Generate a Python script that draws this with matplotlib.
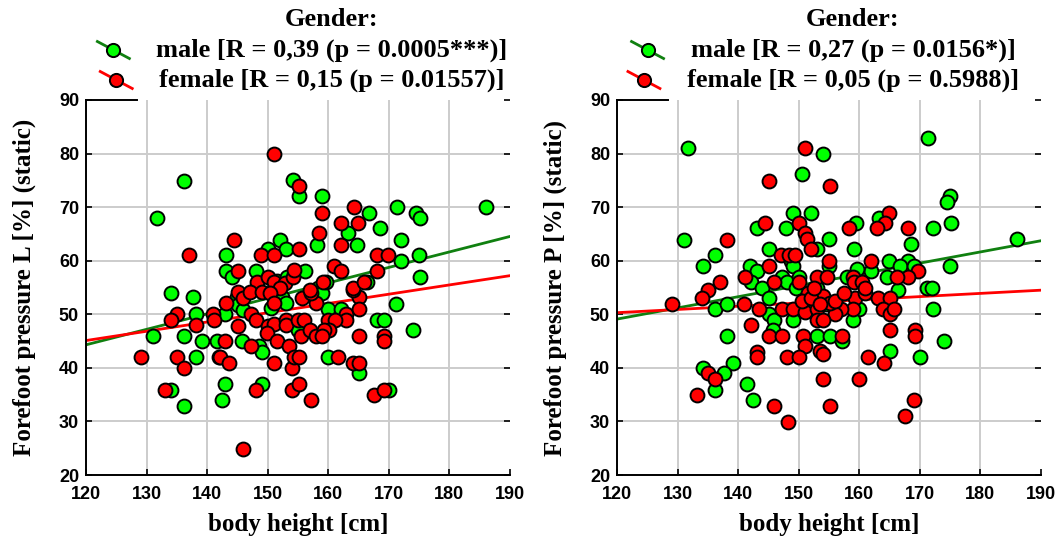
"""
Forefoot pressure vs body height, split by gender (static measurement).
Two scatter panels (left / right foot) with linear fit per gender.
"""

import numpy as np
import matplotlib
matplotlib.use("Agg")
import matplotlib.pyplot as plt
from matplotlib.lines import Line2D

# ============================================================================
# DATA  (body height [cm], forefoot pressure [%])
# ============================================================================

LEFT_MALE = np.array([
    (136.1, 74.9), (131.7, 68.0), (143.1, 61.1), (152.0, 63.9), (150.1, 62.2),
    (153.1, 62.1), (154.1, 75.0), (155.1, 72.0), (143.1, 58.0), (144.1, 57.0),
    (148.1, 58.0), (151.5, 56.3), (153.2, 57.0), (156.2, 58.0), (144.9, 53.3),
    (152.3, 53.3), (145.1, 51.8), (146.0, 50.8), (153.0, 52.1), (157.0, 54.2),
    (158.3, 55.0), (142.9, 50.1), (155.0, 47.0), (150.6, 51.1), (134.1, 54.0),
    (137.6, 53.3), (138.1, 50.1), (131.1, 46.0), (136.1, 46.0), (139.1, 45.0),
    (138.1, 42.0), (134.1, 35.9), (136.1, 32.9), (143.0, 36.9), (142.5, 34.0),
    (149.0, 36.9), (141.6, 45.0), (142.0, 42.0), (145.7, 45.0), (148.6, 44.1),
    (149.0, 43.0), (171.1, 51.9), (159.0, 53.9), (160.0, 51.0), (162.1, 51.0),
    (168.1, 49.0), (169.2, 49.0), (174.0, 47.0), (160.0, 42.0), (165.1, 39.1),
    (170.0, 35.9), (159.0, 72.0), (166.7, 69.0), (171.4, 70.0), (174.5, 69.0),
    (175.1, 68.0), (186.0, 70.0), (163.3, 65.1), (168.5, 66.1), (158.1, 62.9),
    (164.7, 62.9), (172.0, 63.9), (172.0, 60.0), (174.9, 61.1), (175.1, 57.0),
    (159.6, 56.0), (166.4, 56.0),
])

LEFT_FEMALE = np.array([
    (151.0, 80.0), (155.1, 74.0), (144.4, 63.9), (137.0, 61.1), (148.9, 61.1),
    (151.0, 61.1), (145.1, 58.0), (148.3, 56.1), (150.1, 57.0), (151.0, 56.1),
    (152.8, 55.8), (152.0, 54.9), (154.1, 57.0), (154.3, 58.2), (145.1, 54.1),
    (146.0, 53.0), (147.1, 54.1), (149.0, 54.1), (150.4, 53.9), (143.1, 52.1),
    (147.2, 50.1), (148.1, 49.0), (151.0, 52.1), (155.6, 53.0), (158.0, 52.1),
    (141.0, 50.1), (145.1, 47.8), (150.1, 47.8), (151.0, 48.2), (153.0, 49.0),
    (153.0, 48.0), (155.0, 49.0), (156.0, 49.0), (155.5, 46.0), (157.0, 47.0),
    (158.0, 46.0), (149.8, 46.5), (135.0, 50.1), (134.1, 49.0), (138.1, 48.0),
    (129.1, 42.0), (135.0, 42.0), (136.1, 39.9), (133.0, 35.9), (148.1, 35.9),
    (146.0, 24.8), (143.0, 45.0), (142.2, 42.0), (143.6, 41.0), (147.2, 44.1),
    (141.1, 49.0), (151.6, 45.0), (153.5, 44.0), (151.1, 41.0), (154.0, 40.0),
    (154.0, 35.9), (154.3, 42.0), (165.1, 53.2), (164.1, 54.6), (157.1, 53.9),
    (163.0, 50.1), (163.0, 49.0), (165.1, 51.0), (160.0, 49.0), (161.1, 49.0),
    (160.1, 47.0), (159.3, 47.0), (159.0, 46.0), (169.2, 46.0), (169.2, 45.0),
    (165.1, 46.0), (161.6, 42.0), (164.1, 41.0), (165.1, 41.0), (167.5, 34.9),
    (169.2, 35.9), (157.1, 34.0), (155.1, 37.0), (155.1, 42.0), (159.0, 69.0),
    (164.3, 70.0), (162.1, 67.1), (164.9, 67.1), (158.4, 65.1), (162.1, 62.9),
    (155.1, 62.1), (168.1, 61.1), (169.8, 61.1), (168.1, 58.0), (161.0, 59.0),
    (162.1, 58.0), (159.1, 56.0), (157.0, 54.5), (164.1, 55.0), (165.9, 56.0),
])

RIGHT_MALE = np.array([
    (131.7, 81.1), (154.0, 80.0), (150.6, 76.1), (149.0, 69.0), (152.1, 69.0),
    (143.1, 66.1), (147.9, 66.1), (153.1, 62.1), (131.1, 63.9), (136.1, 61.1),
    (134.2, 59.0), (145.1, 62.1), (148.8, 60.0), (149.0, 59.0), (142.0, 59.0),
    (143.1, 58.0), (142.2, 56.0), (144.0, 55.0), (147.2, 57.0), (148.0, 56.0),
    (150.0, 57.0), (153.1, 55.0), (136.1, 51.0), (138.1, 51.9), (145.1, 53.1),
    (145.1, 50.1), (146.0, 49.0), (145.7, 47.0), (149.0, 49.0), (153.0, 46.0),
    (138.1, 46.0), (139.2, 41.0), (134.2, 40.0), (137.6, 39.1), (136.1, 35.9),
    (141.5, 37.0), (142.5, 34.0), (166.4, 54.6), (171.2, 55.0), (172.0, 55.0),
    (172.1, 51.0), (160.0, 51.0), (158.9, 49.0), (155.1, 46.0), (157.1, 45.0),
    (165.0, 43.1), (174.0, 45.0), (170.0, 42.0), (171.3, 83.0), (174.9, 72.1),
    (174.4, 71.0), (175.1, 67.1), (172.1, 66.1), (168.5, 63.1), (163.3, 68.0),
    (159.4, 67.1), (155.0, 64.1), (159.1, 62.1), (155.0, 59.0), (164.9, 60.0),
    (168.1, 60.0), (166.7, 59.0), (169.1, 59.0), (164.6, 57.0), (162.0, 58.0),
    (159.7, 58.5), (157.9, 57.0), (175.0, 59.0), (186.0, 64.1), (151.0, 54.0),
    (154.5, 52.0), (149.5, 55.0),
])

RIGHT_FEMALE = np.array([
    (151.0, 81.1), (145.1, 74.9), (155.1, 74.0), (144.4, 67.1), (150.0, 67.1),
    (151.1, 65.2), (151.3, 64.1), (152.1, 62.1), (138.1, 63.9), (137.0, 56.1),
    (135.0, 54.5), (147.1, 61.1), (148.4, 61.1), (149.4, 61.0), (145.1, 59.0),
    (141.1, 57.0), (146.0, 56.0), (150.0, 56.0), (153.1, 57.0), (151.6, 54.0),
    (129.1, 51.9), (134.0, 53.1), (141.0, 51.9), (143.5, 51.0), (145.1, 46.0),
    (147.2, 46.0), (147.2, 51.0), (149.0, 51.0), (151.0, 50.5), (153.0, 51.0),
    (153.0, 49.0), (150.7, 46.0), (151.1, 44.1), (153.5, 43.2), (154.0, 42.5),
    (148.1, 42.0), (150.1, 42.0), (143.1, 43.0), (143.1, 42.0), (142.1, 48.0),
    (135.1, 39.1), (136.1, 38.0), (133.2, 34.9), (146.0, 32.9), (148.2, 29.9),
    (154.0, 38.0), (154.0, 53.5), (159.3, 53.1), (161.0, 54.0), (163.1, 53.1),
    (165.0, 53.1), (163.9, 51.0), (165.0, 50.0), (165.8, 51.0), (159.0, 51.0),
    (157.0, 51.0), (156.0, 50.0), (155.2, 52.2), (154.0, 49.0), (157.1, 46.0),
    (155.1, 32.9), (160.0, 38.0), (161.5, 42.0), (164.1, 41.0), (165.0, 47.0),
    (169.2, 47.0), (169.2, 46.0), (169.1, 34.0), (167.6, 31.0), (168.1, 66.1),
    (164.9, 69.0), (164.3, 67.1), (163.0, 66.1), (158.3, 66.1), (155.0, 60.0),
    (162.0, 60.0), (169.7, 58.0), (168.1, 57.0), (166.2, 57.0), (158.9, 57.0),
    (159.2, 56.0), (160.5, 56.0), (161.0, 55.0), (154.6, 57.0), (150.5, 52.5),
    (152.0, 53.0), (153.5, 52.0), (156.0, 52.5), (157.5, 54.0), (152.5, 55.0),
])

# Linear fits: (slope, intercept)
FIT_LEFT_MALE = (0.289, 9.62)
FIT_LEFT_FEMALE = (0.173, 24.34)
FIT_RIGHT_MALE = (0.209, 24.02)
FIT_RIGHT_FEMALE = (0.060, 43.10)

LEFT_LABELS = ["male [R = 0,39 (p = 0.0005***)]",
               "female [R = 0,15 (p = 0.01557)]"]
RIGHT_LABELS = ["male [R = 0,27 (p = 0.0156*)]",
                "female [R = 0,05 (p = 0.5988)]"]

Y_LABELS = ["Forefoot pressure L [%] (static)",
            "Forefoot pressure P [%] (static)"]
X_LABEL = "body height [cm]"

X_TICKS = np.arange(120, 191, 10)
Y_TICKS = np.arange(20, 91, 10)

# ============================================================================
# STYLE
# ============================================================================

W, H, DPI = 1060, 545, 100
GREEN_FACE = "#00ff00"
RED_FACE = "#ff0000"
GREEN_LINE = "#108010"
RED_LINE = "#ff0000"
SERIF = ["Liberation Serif", "DejaVu Serif"]
SANS = ["Liberation Sans", "DejaVu Sans"]


def draw_panel(ax, male, female, fit_m, fit_f, ylabel):
    ax.set_xlim(120, 190)
    ax.set_ylim(20, 90)
    ax.set_xticks(X_TICKS)
    ax.set_yticks(Y_TICKS)
    ax.grid(True, color="#cccccc", linewidth=1.4)
    ax.set_axisbelow(True)
    # no grid on the outer frame positions (top / right)
    ax.get_ygridlines()[-1].set_visible(False)
    ax.get_xgridlines()[-1].set_visible(False)

    xs = np.array([120, 190])
    ax.plot(xs, fit_m[0] * xs + fit_m[1], color=GREEN_LINE, lw=2.0, zorder=2)
    ax.plot(xs, fit_f[0] * xs + fit_f[1], color=RED_LINE, lw=2.0, zorder=2)

    ax.scatter(male[:, 0], male[:, 1], s=100, c=GREEN_FACE,
               edgecolors="black", linewidths=1.4, zorder=3)
    ax.scatter(female[:, 0], female[:, 1], s=100, c=RED_FACE,
               edgecolors="black", linewidths=1.4, zorder=4)

    for side in ("top", "right"):
        ax.spines[side].set_visible(False)
    for side in ("left", "bottom"):
        ax.spines[side].set_linewidth(1.4)
    # short stub of the top frame that is not covered by the legend
    ax.axhline(90, xmin=0, xmax=0.12, color="black", lw=1.4, clip_on=False)

    ax.tick_params(axis="both", direction="in", length=4, width=1.2,
                   right=True, labelsize=13)
    ax.tick_params(axis="x", pad=8)
    ax.tick_params(axis="y", pad=5)
    for lab in ax.get_xticklabels() + ax.get_yticklabels():
        lab.set_family(SANS)
        lab.set_fontweight("bold")

    ax.set_xlabel(X_LABEL, family=SERIF, fontweight="bold", fontsize=18)
    ax.xaxis.set_label_coords(0.5, -0.1)
    ax.set_ylabel(ylabel, family=SERIF, fontweight="bold", fontsize=18)
    ax.yaxis.label.set_va("center")
    ax.yaxis.set_label_coords(-0.145, 0.5)


def draw_legend(fig, center_px, labels):
    """Statistica-like legend: centred text, diagonal line + marker handle."""
    renderer = fig.canvas.get_renderer()
    fig.text(center_px / W, 1 - 26 / H, "Gender:", ha="center",
             va="baseline", family=SERIF, fontweight="bold", fontsize=19)
    baselines = [57, 87]
    styles = [(GREEN_LINE, GREEN_FACE), (RED_LINE, RED_FACE)]
    for label, base, (lc, fc) in zip(labels, baselines, styles):
        t = fig.text(center_px / W, 1 - base / H, label, ha="center",
                     va="baseline", family=SERIF, fontweight="bold",
                     fontsize=19)
        left = t.get_window_extent(renderer).x0
        cx = left - 43
        cy = H - (base - 7)
        xs = np.array([cx - 16, cx + 16]) / W
        ys = np.array([cy + 8.5, cy - 8.5]) / H
        fig.add_artist(Line2D(xs, ys, color=lc, lw=2.0,
                              transform=fig.transFigure))
        fig.add_artist(Line2D([cx / W], [cy / H], marker="o", ms=9.5,
                              mfc=fc, mec="black", mew=1.4,
                              transform=fig.transFigure))


def main():
    fig = plt.figure(figsize=(W / DPI, H / DPI), dpi=DPI)
    ax_l = fig.add_axes([86 / W, 1 - 475 / H, 424 / W, 375 / H])
    ax_r = fig.add_axes([617 / W, 1 - 475 / H, 424 / W, 375 / H])

    draw_panel(ax_l, LEFT_MALE, LEFT_FEMALE, FIT_LEFT_MALE,
               FIT_LEFT_FEMALE, Y_LABELS[0])
    draw_panel(ax_r, RIGHT_MALE, RIGHT_FEMALE, FIT_RIGHT_MALE,
               FIT_RIGHT_FEMALE, Y_LABELS[1])

    fig.canvas.draw()
    draw_legend(fig, 332, LEFT_LABELS)
    draw_legend(fig, 853, RIGHT_LABELS)

    fig.savefig("out.png", dpi=DPI)
    plt.close(fig)


if __name__ == "__main__":
    main()
